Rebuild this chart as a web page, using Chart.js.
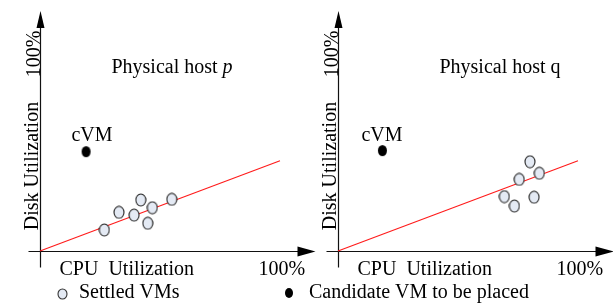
<!DOCTYPE html>
<html>
<head>
<meta charset="utf-8">
<script src="https://cdn.jsdelivr.net/npm/chart.js@4.4.1/dist/chart.umd.min.js"></script>
<style>
  html, body { margin: 0; padding: 0; background: #fff; }
  #wrap { position: relative; width: 613px; height: 305px; }
  #wrap canvas { position: absolute; top: 0; }
  #chartP { left: 0; }
  #chartQ { left: 300px; }
</style>
</head>
<body>
<div id="wrap">
  <canvas id="chartP" width="613" height="305"></canvas>
  <canvas id="chartQ" width="313" height="305"></canvas>
</div>
<script>
// --- data (CPU % / Disk %) ---
const hostNames = ['Physical host ', 'Physical host q'];
const cpuP = [26.8, 32.9, 39.2, 42.0, 46.8, 44.9, 54.9];
const diskP = [10.0, 18.4, 17.1, 24.3, 20.6, 13.2, 24.6];
const cpuQ = [80.0, 75.5, 83.9, 69.3, 73.5, 81.7];
const diskQ = [42.5, 34.1, 37.0, 25.9, 21.4, 25.6];
const cvmP = [19.2, 47.3];
const cvmQ = [18.5, 47.8];
const fitCpu = [0, 100];
const fitDisk = [0, 43];
const maxLabel = '100%';
const xTitle = 'CPU  Utilization';
const yTitle = 'Disk Utilization';
const legendLabels = ['Settled VMs', 'Candidate VM to be placed'];

const FONT = '20px "Liberation Serif"';

function ellipseImg(w, h, fill, stroke){
  const c = document.createElement('canvas');
  c.width = w; c.height = h;
  const g = c.getContext('2d');
  g.beginPath();
  g.ellipse(w/2, h/2, w/2 - 1, h/2 - 1, 0, 0, Math.PI*2);
  g.fillStyle = fill;
  g.fill();
  if(stroke){ g.lineWidth = 1.1; g.strokeStyle = stroke; g.stroke(); }
  return c;
}
const vmImg = ellipseImg(12, 14, '#e4eaf4', '#222');
const cvmImg = ellipseImg(11, 13, '#000', null);

function toPts(xs, ys){ return xs.map((x, i) => ({x: x, y: ys[i]})); }

// axes, arrows and texts
function panelPlugin(opts){
  return {
    id: 'panel',
    beforeDatasetsDraw(chart){
      const c = chart.ctx;
      const xs = chart.scales.x, ys = chart.scales.y;
      const ox = Math.round(xs.getPixelForValue(0)) + 0.5;
      const oy = Math.round(ys.getPixelForValue(0)) + 0.5;
      c.save();
      c.strokeStyle = '#111';
      c.fillStyle = '#000';
      c.lineWidth = 1.2;
      // x axis
      c.beginPath(); c.moveTo(ox - 12, oy); c.lineTo(ox + 262, oy); c.stroke();
      c.beginPath(); c.moveTo(ox + 275, oy); c.lineTo(ox + 257, oy - 5); c.lineTo(ox + 257, oy + 5); c.closePath(); c.fill();
      // y axis
      c.beginPath(); c.moveTo(ox, oy + 16); c.lineTo(ox, 24); c.stroke();
      c.beginPath(); c.moveTo(ox, 11); c.lineTo(ox - 4, 28); c.lineTo(ox + 4, 28); c.closePath(); c.fill();

      c.font = FONT;
      c.textBaseline = 'alphabetic';
      // title
      if(opts.italic){
        const w1 = c.measureText(opts.title).width;
        c.font = 'italic ' + FONT;
        const w2 = c.measureText(opts.italic).width;
        const sx = opts.titleX - (w1 + w2)/2;
        c.fillText(opts.italic, sx + w1, 73);
        c.font = FONT;
        c.fillText(opts.title, sx, 73);
      } else {
        c.textAlign = 'center';
        c.fillText(opts.title, opts.titleX, 73);
      }
      c.textAlign = 'center';
      c.fillText('cVM', opts.cvmX, 141);
      c.textAlign = 'left';
      c.fillText(xTitle, ox + 19, 275);
      c.fillText(maxLabel, ox + 218, 275);
      // rotated y texts
      c.save();
      c.translate(ox - 1, 0);
      c.rotate(-Math.PI/2);
      c.textAlign = 'center';
      c.fillText(maxLabel, -54, 0);
      c.fillText(yTitle, -166, -2);
      c.restore();

      if(opts.legend){
        c.drawImage(ellipseImg(11, 12, '#e4eaf4', '#333'), 57, 288);
        c.drawImage(ellipseImg(10, 12, '#000', null), 284, 287);
        c.textAlign = 'left';
        c.fillText(legendLabels[0], 79, 298);
        c.fillText(legendLabels[1], 309, 298);
      }
      c.restore();
    }
  };
}

function makeChart(id, xs, ys, cvm, pad, opts){
  return new Chart(document.getElementById(id), {
    type: 'scatter',
    data: { datasets: [
      { data: toPts(xs, ys), pointStyle: vmImg, order: 1 },
      { data: [{x: cvm[0], y: cvm[1]}], pointStyle: cvmImg, order: 1 },
      { data: toPts(fitCpu, fitDisk), showLine: true, borderColor: '#ff1a1a', borderWidth: 1.1, pointRadius: 0, order: 2 }
    ]},
    options: {
      responsive: false,
      animation: false,
      events: [],
      layout: { padding: pad },
      plugins: { legend: { display: false }, tooltip: { enabled: false } },
      scales: {
        x: { type: 'linear', min: 0, max: 100, display: false },
        y: { type: 'linear', min: 0, max: 100, display: false }
      },
      clip: false
    },
    plugins: [panelPlugin(opts)]
  });
}

makeChart('chartP', cpuP, diskP, cvmP,
  { left: 40, right: 333, top: 41, bottom: 54 },
  { title: hostNames[0], italic: 'p', titleX: 172, cvmX: 92, legend: true });
makeChart('chartQ', cpuQ, diskQ, cvmQ,
  { left: 38, right: 35, top: 41, bottom: 54 },
  { title: hostNames[1], titleX: 200, cvmX: 82, legend: false });
</script>
</body>
</html>
